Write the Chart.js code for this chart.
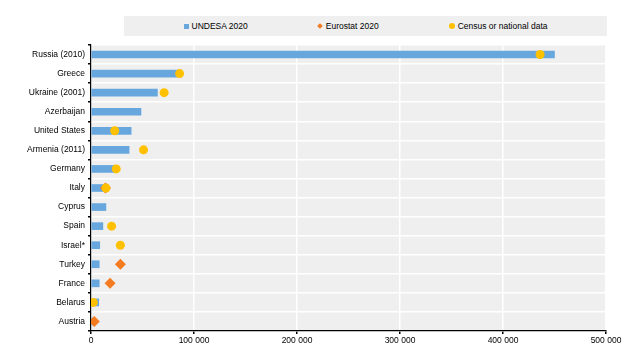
<!DOCTYPE html>
<html>
<head>
<meta charset="utf-8">
<script src="https://cdn.jsdelivr.net/npm/chart.js@4/dist/chart.umd.min.js"></script>
<style>
  html, body { margin: 0; padding: 0; background: #fff; }
  #wrap { position: relative; width: 627px; height: 354px; }
  #legend {
    position: absolute; left: 124px; top: 16px; width: 483px; height: 20px;
    background: #efefef; display: flex; align-items: center; justify-content: center;
    font: 8.5px "Liberation Sans", Arial, sans-serif; color: #000;
  }
  .item { display: flex; align-items: center; margin: 0 35px; }
  .sw { margin-right: 3px; }
  .sq { width: 5px; height: 5px; background: #68a7dd; }
  .dm { width: 4px; height: 4px; background: #f47b20; transform: rotate(45deg); margin-right: 4px; }
  .ci { width: 6px; height: 6px; border-radius: 50%; background: #ffc000; }
</style>
</head>
<body>
<div id="wrap">
  <canvas id="migrantChart" width="627" height="354"></canvas>
  <div id="legend">
    <div class="item"><span class="sw sq"></span>UNDESA 2020</div>
    <div class="item"><span class="sw dm"></span>Eurostat 2020</div>
    <div class="item"><span class="sw ci"></span>Census or national data</div>
  </div>
</div>
<script>
const countries = ['Russia (2010)', 'Greece', 'Ukraine (2001)', 'Azerbaijan', 'United States',
    'Armenia (2011)', 'Germany', 'Italy', 'Cyprus', 'Spain', 'Israel*', 'Turkey', 'France', 'Belarus', 'Austria'];
const undesa = [450000, 84000, 64500, 48500, 39000, 37000, 22000, 13500, 14500, 11500, 8500, 8000, 8000, 7500, 2000];
const eurostat = [null, null, null, null, null, null, null, 14000, null, null, null, 28500, 18500, null, 3200];
const census = [436000, 86000, 71000, null, 23000, 51000, 24500, 14500, null, 20000, 28500, null, null, 2200, null];
const xTicks = [0, 100000, 200000, 300000, 400000, 500000];

const plotBg = {
    id: 'plotBg',
    beforeDraw(chart) {
        const { ctx, chartArea: a } = chart;
        ctx.save();
        ctx.fillStyle = '#efefef';
        ctx.fillRect(a.left, a.top, a.right - a.left, a.bottom - a.top);
        ctx.restore();
    }
};

const font = { family: '"Liberation Sans", Arial, sans-serif', size: 8.5 };

new Chart(document.getElementById('migrantChart').getContext('2d'), {
    type: 'bar',
    data: {
        labels: countries,
        datasets: [
            {
                label: 'UNDESA 2020',
                data: undesa,
                backgroundColor: '#68a7dd',
                barThickness: 7,
                order: 3
            },
            {
                type: 'line',
                label: 'Eurostat 2020',
                data: eurostat,
                indexAxis: 'y',
                showLine: false,
                pointStyle: 'rectRot',
                pointRadius: 5.5,
                backgroundColor: '#f47b20',
                borderColor: '#f47b20',
                borderWidth: 0,
                order: 2
            },
            {
                type: 'line',
                label: 'Census or national data',
                data: census,
                indexAxis: 'y',
                showLine: false,
                pointStyle: 'circle',
                pointRadius: 4.5,
                backgroundColor: '#ffc000',
                borderColor: '#ffc000',
                borderWidth: 0,
                order: 1
            }
        ]
    },
    options: {
        indexAxis: 'y',
        responsive: false,
        animation: false,
        layout: { padding: { top: 45, right: 21, left: 0, bottom: 0 } },
        plugins: {
            legend: { display: false },
            tooltip: { enabled: false }
        },
        scales: {
            x: {
                min: 0,
                max: 500000,
                afterBuildTicks: (scale) => { scale.ticks = xTicks.map(v => ({ value: v })); },
                afterFit: (scale) => { scale.height = 23; },
                ticks: {
                    font: font,
                    color: '#000',
                    padding: 2,
                    maxRotation: 0,
                    callback: (v) => Number(v).toLocaleString('en-US').replace(/,/g, ' ')
                },
                grid: { color: '#ffffff', lineWidth: 1.5, tickColor: '#000', tickLength: 3 },
                border: { color: '#000', width: 1.2 }
            },
            y: {
                afterFit: (scale) => { scale.width = 91; },
                ticks: { font: font, color: '#000', padding: 3 },
                grid: { offset: true, color: '#ffffff', lineWidth: 1.5, tickColor: '#000', tickLength: 3 },
                border: { color: '#000', width: 1.2 }
            }
        }
    },
    plugins: [plotBg]
});
</script>
</body>
</html>
